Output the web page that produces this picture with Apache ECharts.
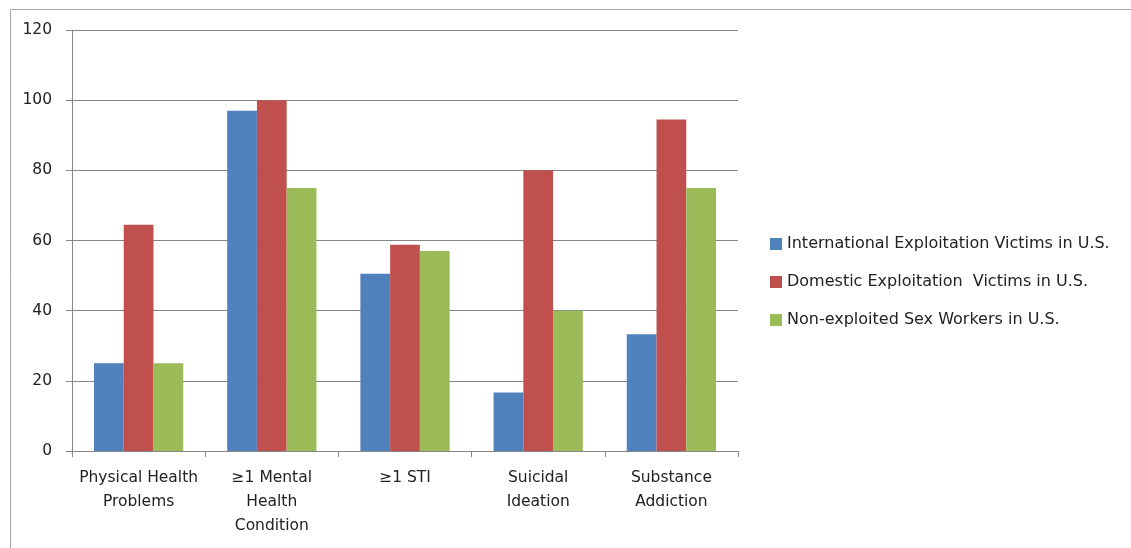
<!DOCTYPE html>
<html>
<head>
<meta charset="utf-8">
<script src="https://cdn.jsdelivr.net/npm/echarts@6/dist/echarts.min.js"></script>
<style>
  html, body { margin: 0; padding: 0; background: #fff; }
  #chart { width: 1131px; height: 548px; }
</style>
</head>
<body>
<div id="chart"></div>
<script>
// Health outcomes (%) by group
const categories = [
  'Physical Health\nProblems',
  '≥1 Mental\nHealth\nCondition',
  '≥1 STI',
  'Suicidal\nIdeation',
  'Substance\nAddiction'
];
const seriesNames = [
  'International Exploitation Victims in U.S.',
  'Domestic Exploitation  Victims in U.S.',
  'Non-exploited Sex Workers in U.S.'
];
const internationalVictims = [25, 97, 50.5, 16.7, 33.3];
const domesticVictims = [64.5, 100, 58.8, 80, 94.5];
const nonExploitedWorkers = [25, 75, 57, 40, 75];
const yTicks = { min: 0, max: 120, interval: 20 };

const colors = ['#4F81BD', '#C0504D', '#9BBB59'];
const font = 'DejaVu Sans';

const chart = echarts.init(document.getElementById('chart'), null, { renderer: 'canvas' });

const seriesData = [internationalVictims, domesticVictims, nonExploitedWorkers];

chart.setOption({
  animation: false,
  backgroundColor: '#ffffff',
  color: colors,
  graphic: [{
    type: 'rect',
    left: 8, top: 7,
    shape: { width: 1300, height: 700 },
    style: { fill: 'none', stroke: '#a6a6a6', lineWidth: 1 },
    z: -1
  }],
  grid: { left: 72, right: 393, top: 30, bottom: 97, containLabel: false },
  legend: {
    orient: 'vertical',
    left: 765,
    top: 231,
    itemWidth: 12,
    itemHeight: 12,
    itemGap: 22,
    icon: 'rect',
    textStyle: { fontFamily: font, fontSize: 16, color: '#222' },
    data: seriesNames
  },
  xAxis: {
    type: 'category',
    data: categories,
    axisLine: { lineStyle: { color: '#868686', width: 1 } },
    axisTick: { show: true, length: 6, lineStyle: { color: '#868686' } },
    axisLabel: {
      fontFamily: font, fontSize: 15.5, color: '#222',
      lineHeight: 24, margin: 15, interval: 0
    }
  },
  yAxis: {
    type: 'value',
    min: yTicks.min, max: yTicks.max, interval: yTicks.interval,
    axisLine: { show: true, lineStyle: { color: '#868686', width: 1 } },
    axisTick: { show: true, length: 6, lineStyle: { color: '#868686' } },
    axisLabel: { fontFamily: font, fontSize: 15.5, color: '#222', margin: 20 },
    splitLine: { lineStyle: { color: '#868686', width: 1 } }
  },
  series: seriesNames.map((name, i) => ({
    name,
    type: 'bar',
    data: seriesData[i],
    barGap: '0%',
    barCategoryGap: '33%',
    itemStyle: { color: colors[i] }
  }))
});
</script>
</body>
</html>
